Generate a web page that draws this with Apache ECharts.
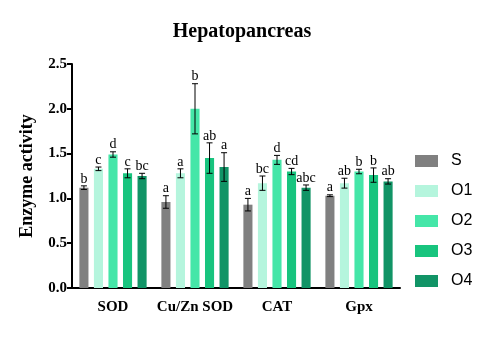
<!DOCTYPE html>
<html>
<head>
<meta charset="utf-8">
<script src="https://cdn.jsdelivr.net/npm/echarts@6/dist/echarts.min.js"></script>
<style>
  html, body { margin: 0; padding: 0; background: #fff; }
  #chart { width: 490px; height: 340px; }
</style>
</head>
<body>
<div id="chart"></div>
<script>
// Enzyme activity in the hepatopancreas, per treatment group
var categories = ['SOD', 'Cu/Zn SOD', 'CAT', 'Gpx'];
var groups = ['S', 'O1', 'O2', 'O3', 'O4'];

var meanS  = [1.12, 0.96, 0.93, 1.03];
var meanO1 = [1.33, 1.28, 1.17, 1.17];
var meanO2 = [1.49, 2.00, 1.43, 1.30];
var meanO3 = [1.28, 1.45, 1.30, 1.26];
var meanO4 = [1.25, 1.35, 1.12, 1.19];

var errS  = [0.02, 0.07, 0.07, 0.01];
var errO1 = [0.02, 0.05, 0.08, 0.055];
var errO2 = [0.03, 0.28, 0.05, 0.025];
var errO3 = [0.05, 0.17, 0.035, 0.08];
var errO4 = [0.03, 0.16, 0.03, 0.03];

var letS  = ['b', 'a', 'a', 'a'];
var letO1 = ['c', 'a', 'bc', 'ab'];
var letO2 = ['d', 'b', 'd', 'b'];
var letO3 = ['c', 'ab', 'cd', 'b'];
var letO4 = ['bc', 'a', 'abc', 'ab'];

var yTicks = [0, 0.5, 1.0, 1.5, 2.0, 2.5];

var colors = ['#808080', '#b5f5dd', '#45e6a8', '#18c47e', '#119466'];

var means = [meanS, meanO1, meanO2, meanO3, meanO4];
var errs = [errS, errO1, errO2, errO3, errO4];
var lets = [letS, letO1, letO2, letO3, letO4];

var CAT_GAP = 0.18;
var BAR_GAP = 0.6;
var N = groups.length;

var serif = '"Liberation Serif", "Times New Roman", serif';

function errorSeries(gi) {
  var data = categories.map(function (c, i) {
    return [i, means[gi][i], errs[gi][i]];
  });
  return {
    type: 'custom',
    name: groups[gi] + '-err',
    z: 5,
    silent: true,
    data: data,
    renderItem: function (params, api) {
      var ci = api.value(0);
      var m = api.value(1);
      var e = api.value(2);
      var letter = lets[gi][params.dataIndex];
      var band = api.size([1, 0])[0];
      var used = band * (1 - CAT_GAP);
      var w = used / (N + (N - 1) * BAR_GAP);
      var center = api.coord([ci, m]);
      var x = center[0] - used / 2 + w / 2 + gi * w * (1 + BAR_GAP);
      var top = api.coord([ci, m + e])[1];
      var bot = api.coord([ci, m - e])[1];
      var cap = 3;
      var style = { stroke: '#000', lineWidth: 1 };
      return {
        type: 'group',
        children: [
          { type: 'line', shape: { x1: x, y1: top, x2: x, y2: bot }, style: style },
          { type: 'line', shape: { x1: x - cap, y1: top, x2: x + cap, y2: top }, style: style },
          { type: 'line', shape: { x1: x - cap, y1: bot, x2: x + cap, y2: bot }, style: style },
          {
            type: 'text',
            style: {
              x: x, y: top,
              text: letter,
              align: 'center', verticalAlign: 'bottom',
              font: '14px ' + serif,
              fill: '#000'
            }
          }
        ]
      };
    }
  };
}

var series = [];
groups.forEach(function (g, gi) {
  series.push({
    type: 'bar',
    name: g,
    data: means[gi],
    itemStyle: { color: colors[gi] },
    barGap: (BAR_GAP * 100) + '%',
    barCategoryGap: (CAT_GAP * 100) + '%',
    silent: true
  });
});
groups.forEach(function (g, gi) { series.push(errorSeries(gi)); });

var chart = echarts.init(document.getElementById('chart'), null, { renderer: 'canvas' });
chart.setOption({
  animation: false,
  backgroundColor: '#fff',
  title: {
    text: 'Hepatopancreas',
    left: 237,
    textAlign: 'center',
    top: 17,
    textStyle: { fontFamily: serif, fontWeight: 'bold', fontSize: 20, color: '#000' }
  },
  legend: {
    data: groups,
    orient: 'vertical',
    left: 415,
    top: 153,
    padding: 0,
    itemWidth: 23,
    itemHeight: 12,
    itemGap: 14,
    icon: 'rect',
    textStyle: { fontFamily: '"Liberation Sans", Arial, sans-serif', fontSize: 16, color: '#000', padding: [0, 0, 0, 8] }
  },
  grid: { left: 72, right: 90, top: 64, bottom: 52, containLabel: false },
  xAxis: {
    type: 'category',
    data: categories,
    axisLine: { lineStyle: { color: '#000', width: 2 } },
    axisTick: { alignWithLabel: true, length: 6, lineStyle: { color: '#000', width: 2 } },
    axisLabel: { interval: 0, fontFamily: serif, fontWeight: 'bold', fontSize: 15, color: '#000', margin: 12 }
  },
  yAxis: {
    type: 'value',
    min: yTicks[0],
    max: yTicks[yTicks.length - 1],
    interval: 0.5,
    name: 'Enzyme activity',
    nameLocation: 'middle',
    nameGap: 36,
    nameTextStyle: { fontFamily: serif, fontWeight: 'bold', fontSize: 18, color: '#000' },
    splitLine: { show: false },
    axisLine: { show: true, lineStyle: { color: '#000', width: 2 } },
    axisTick: { show: true, length: 5, lineStyle: { color: '#000', width: 2 } },
    axisLabel: {
      fontFamily: serif, fontWeight: 'bold', fontSize: 15, color: '#000', margin: 5,
      formatter: function (v) { return v.toFixed(1); }
    }
  },
  series: series
});
</script>
</body>
</html>
